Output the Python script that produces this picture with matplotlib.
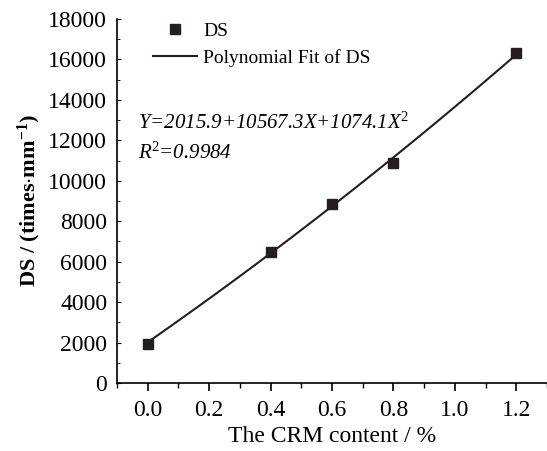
import numpy as np
import matplotlib.pyplot as plt
from matplotlib.ticker import MultipleLocator

# data
crm = [0.0, 0.4, 0.6, 0.8, 1.2]
ds = [1930, 6490, 8840, 10900, 16300]

# polynomial fit coefficients as printed on the chart
b0, b1, b2 = 2015.9, 10567.3, 1074.1
x_fit = np.linspace(0.0, 1.2, 100)
y_fit = b0 + b1 * x_fit + b2 * x_fit ** 2

plt.rcParams['font.family'] = ['Liberation Serif', 'DejaVu Serif']
plt.rcParams['mathtext.fontset'] = 'custom'
plt.rcParams['mathtext.rm'] = 'Liberation Serif'
plt.rcParams['mathtext.it'] = 'Liberation Serif:italic'
plt.rcParams['mathtext.bf'] = 'Liberation Serif:bold'

fig = plt.figure(figsize=(5.47, 4.51), dpi=100)
ax = fig.add_axes([117 / 547, 68 / 451, 430 / 547, 364 / 451])

ax.plot(crm, ds, 's', color='#231f20', markersize=7, label='DS')
ax.plot(x_fit, y_fit, '-', color='#231f20', linewidth=1.5, label='Polynomial Fit of DS')

ax.set_xlim(-0.1, 1.3)
ax.set_ylim(0, 18000)
ax.xaxis.set_major_locator(MultipleLocator(0.2))
ax.xaxis.set_minor_locator(MultipleLocator(0.1))
ax.yaxis.set_major_locator(MultipleLocator(2000))
ax.yaxis.set_minor_locator(MultipleLocator(1000))
ax.xaxis.set_major_formatter(plt.FuncFormatter(lambda v, p: f'{v:.1f}'))

for s in ['top', 'right']:
    ax.spines[s].set_visible(False)
ax.spines['left'].set_linewidth(1.2)
ax.spines['bottom'].set_linewidth(1.2)

ax.tick_params(axis='x', which='major', direction='out', length=6, width=1.2, labelsize=17, pad=6)
ax.tick_params(axis='x', which='minor', direction='out', length=3.5, width=1.0)
ax.tick_params(axis='y', which='major', direction='in', length=3, width=0.8, labelsize=17, pad=7)
ax.tick_params(axis='y', which='minor', direction='in', length=2, width=0.6)

ax.set_xlabel('The CRM content / %', fontsize=17, labelpad=4)
ax.set_ylabel(r'DS / (times$\cdot$mm$^{\mathbf{-1}}$)', fontsize=16, fontweight='bold', labelpad=4)

ax.legend(loc='upper left', bbox_to_anchor=(0.084, 0.99), frameon=False, fontsize=14,
          handlelength=2.26, handletextpad=0.3, labelspacing=0.45, borderpad=0, borderaxespad=0)

ax.text(0.049, 0.714, r'Y=2015.9+10567.3X+1074.1X$^{\mathit{2}}$', transform=ax.transAxes,
        fontsize=15, style='italic', va='center')
ax.text(0.049, 0.632, r'R$^{\mathit{2}}$=0.9984', transform=ax.transAxes,
        fontsize=15, style='italic', va='center')

fig.savefig('out.png', dpi=100)
